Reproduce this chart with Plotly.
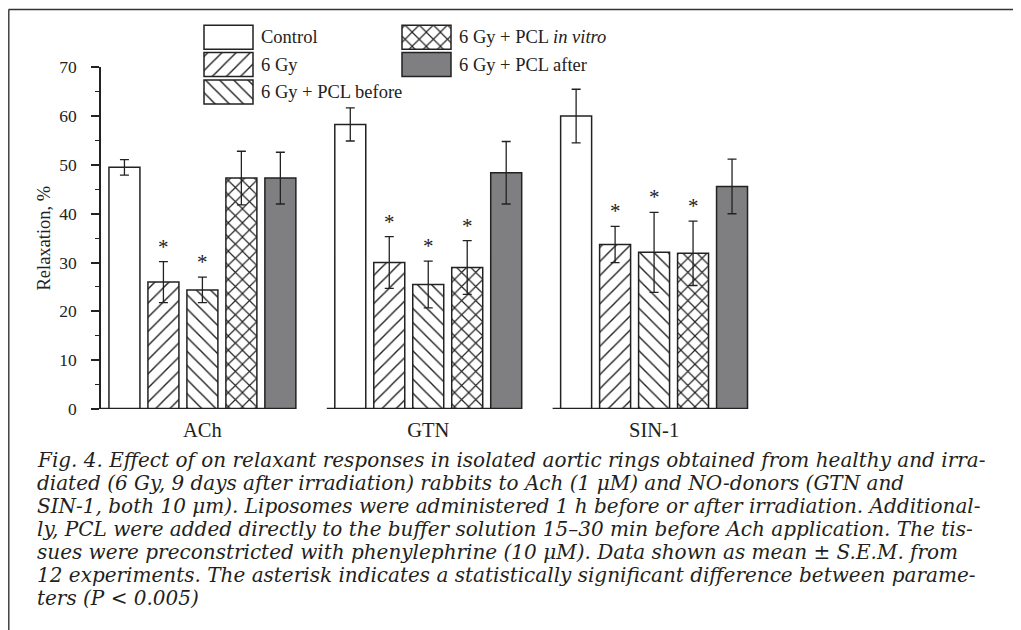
import plotly.graph_objects as go

# ---------------- data ----------------
categories = ["ACh", "GTN", "SIN-1"]
series_names = ["Control", "6 Gy", "6 Gy + PCL before", "6 Gy + PCL <i>in vitro</i>", "6 Gy + PCL after"]
control      = [49.5, 58.3, 60.0]
control_err  = [1.6, 3.4, 5.5]
gy6          = [26.0, 30.0, 33.7]
gy6_err      = [4.2, 5.3, 3.7]
pcl_before   = [24.4, 25.5, 32.1]
pcl_before_err = [2.6, 4.8, 8.2]
pcl_invitro  = [47.3, 29.0, 31.9]
pcl_invitro_err = [5.5, 5.5, 6.6]
pcl_after    = [47.3, 48.4, 45.6]
pcl_after_err = [5.3, 6.4, 5.6]
# significance markers (series index -> categories with *)
significant = {1: [0, 1, 2], 2: [0, 1, 2], 3: [1, 2]}
y_ticks = [0, 10, 20, 30, 40, 50, 60, 70]

caption_lines = [
    "Fig. 4. Effect of on relaxant responses in isolated aortic rings obtained from healthy and irra-",
    "diated (6 Gy, 9 days after irradiation) rabbits to Ach (1 μM) and NO-donors (GTN and",
    "SIN-1, both 10 μm). Liposomes were administered 1 h before or after irradiation. Additional-",
    "ly, PCL were added directly to the buffer solution 15–30 min before Ach application. The tis-",
    "sues were preconstricted with phenylephrine (10 μM). Data shown as mean ± S.E.M. from",
    "12 experiments. The asterisk indicates a statistically significant difference between parame-",
    "ters (P < 0.005)",
]

values = [control, gy6, pcl_before, pcl_invitro, pcl_after]
errors = [control_err, gy6_err, pcl_before_err, pcl_invitro_err, pcl_after_err]

# ---------------- style / geometry ----------------
INK = "#222222"
GRAY = "#7f7f82"
SERIF = "Liberation Serif"
OFF = 8                       # page body margin
W, H = 1021 - OFF, 630 - OFF
ML = 101 - OFF
PLOT_RIGHT = 767 - OFF
AX_TOP, AX_BOTTOM = 67.3 - OFF, 409 - OFF   # y=70 and y=0 in figure px
MT = 0
MB = H - AX_BOTTOM
MR = W - PLOT_RIGHT
PW, PH = W - ML - MR, H - MT - MB
BARGAP, GROUPGAP = 0.137, 0.205
XMIN, XMAX = -0.449, 2.5

def pxx(page_x):
    return (page_x - OFF - ML) / PW

def pyy(page_y):
    return (AX_BOTTOM - (page_y - OFF)) / PH

def pattern(shape):
    sol = 0.22 if shape == "x" else 0.14
    return dict(shape=shape, fgcolor=INK, bgcolor="white", size=10, solidity=sol, fillmode="replace")

styles = [
    dict(color="white", pattern=None),
    dict(color="white", pattern="/"),
    dict(color="white", pattern="\\"),
    dict(color="white", pattern="x"),
    dict(color=GRAY, pattern=None),
]

def make_marker(st):
    m = dict(color=st["color"], line=dict(color=INK, width=1.5))
    if st["pattern"]:
        m["pattern"] = pattern(st["pattern"])
    return m

fig = go.Figure()
xs = list(range(len(categories)))
for i, (vals, errs) in enumerate(zip(values, errors)):
    fig.add_trace(go.Bar(
        x=xs, y=vals, name=series_names[i], marker=make_marker(styles[i]),
        error_y=dict(type="data", array=errs, visible=True, color=INK, thickness=1.3, width=4.5),
        showlegend=False, xaxis="x", yaxis="y",
    ))

slot = (1 - BARGAP) / len(values)
half = (1 - BARGAP) / 2
px_per_cat = PW / (XMAX - XMIN)

# asterisks
for si, cats in significant.items():
    for c in cats:
        fig.add_annotation(
            x=c - half + slot * (si + 0.5), y=values[si][c] + errors[si][c],
            xref="x", yref="y", text="*", showarrow=False, yanchor="middle", yshift=15,
            font=dict(family=SERIF, size=21, color=INK),
        )

# broken baseline under each group
shapes = []
for c in xs:
    first_left = c - half + slot * GROUPGAP / 2
    last_right = c + half - slot * GROUPGAP / 2
    shapes.append(dict(type="line", xref="x", yref="y", x0=first_left - 8 / px_per_cat, x1=last_right,
                       y0=0, y1=0, line=dict(color=INK, width=2.6)))

# frame of the figure panel
shapes.append(dict(type="line", xref="paper", yref="paper", x0=pxx(8.6), x1=pxx(1030), y0=pyy(9.5), y1=pyy(9.5),
                   line=dict(color="#333333", width=1.6)))
shapes.append(dict(type="line", xref="paper", yref="paper", x0=pxx(8.8), x1=pxx(8.8), y0=pyy(9.5), y1=pyy(640),
                   line=dict(color="#333333", width=1.4)))

# ---------------- custom legend (swatches on helper axes in page-pixel units) ----------------
legend_items = [  # (series index, swatch left, row centre, text left) in page px
    (0, 204, 37.2, 259),
    (1, 204, 64.6, 259),
    (2, 204, 92.0, 259),
    (3, 402, 37.2, 457),
    (4, 402, 64.6, 457),
]
for si, left, yc, tx in legend_items:
    fig.add_trace(go.Bar(
        orientation="h", y=[-yc], x=[49], base=[left], width=[24], offset=-12,
        marker=make_marker(styles[si]),
        xaxis="x3", yaxis="y3", showlegend=False, hoverinfo="skip",
    ))
    fig.add_annotation(x=tx, y=-yc, xref="x3", yref="y3", text=series_names[si], showarrow=False,
                       xanchor="left", yanchor="middle", font=dict(family=SERIF, size=18.5, color=INK))

# caption
for k, line in enumerate(caption_lines):
    fig.add_annotation(x=pxx(35), y=pyy(460 + 23 * k), xref="paper", yref="paper", text=line,
                       showarrow=False, xanchor="left", yanchor="middle",
                       font=dict(family="DejaVu Serif", size=20, color="#231f20", style="italic"))

fig.update_layout(
    width=W, height=H, margin=dict(l=ML, r=MR, t=MT, b=MB, pad=0),
    paper_bgcolor="white", plot_bgcolor="rgba(0,0,0,0)",
    barmode="group", bargap=BARGAP, bargroupgap=GROUPGAP,
    showlegend=False, shapes=shapes,
    xaxis=dict(range=[XMIN, XMAX], tickvals=xs, ticktext=categories, ticks="", ticklen=0, showline=False,
               zeroline=False, showgrid=False, tickfont=dict(family=SERIF, size=20.5, color=INK),
               anchor="y", automargin=False, ticklabelstandoff=6),
    yaxis=dict(range=[0, 70], domain=[0, (AX_BOTTOM - AX_TOP) / PH], tickvals=y_ticks, ticks="outside", ticklen=8,
               tickwidth=1.5, tickcolor=INK, showline=True, linecolor=INK, linewidth=1.5,
               zeroline=False, showgrid=False,
               minor=dict(dtick=5, ticks="outside", ticklen=4, tickwidth=1.3, tickcolor=INK),
               tickfont=dict(family=SERIF, size=17.5, color=INK), ticklabelstandoff=11,
               title=dict(text="Relaxation, %", font=dict(family=SERIF, size=18.5, color=INK), standoff=4),
               automargin=False, anchor="x"),
    xaxis3=dict(domain=[pxx(200), pxx(620)], range=[200, 620], visible=False, anchor="y3", fixedrange=True),
    yaxis3=dict(domain=[pyy(110), pyy(18)], range=[-110, -18], visible=False, anchor="x3", fixedrange=True),
)

fig.write_html("out.html")
